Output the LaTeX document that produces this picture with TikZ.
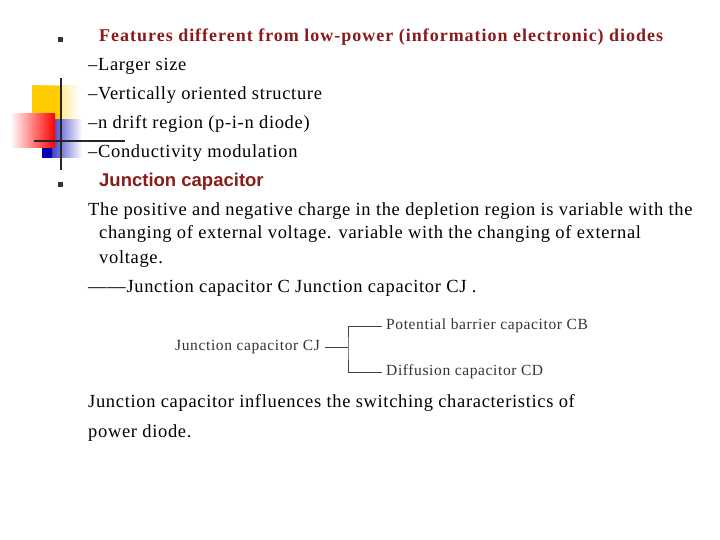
\documentclass[tikz,border=0pt]{standalone}
\usepackage{fontspec}
\setmainfont{Liberation Serif}[LetterSpace=3.6]
\newfontfamily\hsans{Liberation Sans}
\newfontfamily\dserif{Liberation Serif}[LetterSpace=4]
\newfontfamily\tserif{Liberation Serif}[LetterSpace=5.5]
\definecolor{dred}{HTML}{8B1A1A}
\definecolor{dyel}{HTML}{FFCC00}
\begin{document}
\begin{tikzpicture}[x=1pt,y=-1pt,
  body/.style={anchor=base west,inner sep=0pt,font=\fontsize{18.5}{20}\selectfont},
  small/.style={inner sep=0pt,font=\dserif\fontsize{15.5}{16}\selectfont,text=black!80},
  bul/.style={fill=black!80,minimum size=5pt,inner sep=0pt}]
\useasboundingbox (0,0) rectangle (720,540);
% decoration
\shade[left color=dyel, right color=white] (32,86) rectangle (80,122);
\fill[dyel] (32,86) rectangle (60,122);
\shade[left color=blue!70!black, right color=white] (42,120) rectangle (82,158);
\fill[blue!70!black] (42,120) rectangle (52,158);
\shade[left color=white, right color=red] (10,114) rectangle (55,148);
\draw[line width=2.5pt,black!85] (61,78) -- (61,170);
\draw[line width=2.5pt,black!85] (34,141) -- (125,141);
% bullets
\node[bul] (b1) at (60,40) {};
\node[bul] (b2) at (60,185) {};
\node[body,text=dred,font=\tserif\bfseries\fontsize{18}{20}\selectfont] (t1) at (99,42) {Features different from low-power (information electronic) diodes};
\node[body] (l1) at (88,71) {--Larger size};
\node[body] (l2) at (88,100) {--Vertically oriented structure};
\node[body] (l3) at (88,129) {--n drift region (p-i-n diode)};
\node[body] (l4) at (88,158) {--Conductivity modulation};
\node[body,text=dred,font=\hsans\bfseries\fontsize{18.5}{20}\selectfont] (t2) at (99,187) {Junction capacitor};
\node[body] (p1) at (88,215) {The positive and negative charge in the depletion region is variable with the};
\node[body] (p2) at (99,239) {changing of external voltage. variable with the changing of external};
\node[body] (p3) at (99,263) {voltage.};
\node[body] (p4) at (88,292) {------Junction capacitor C Junction capacitor CJ .};
% tree
\node[small,anchor=east] (cj) at (320,347) {Junction capacitor CJ};
\node[small,anchor=west] (cb) at (386,326) {Potential barrier capacitor CB};
\node[small,anchor=west] (cd) at (386,372) {Diffusion capacitor CD};
\coordinate (j) at (348,347);
\draw[black!75,line width=0.8pt] (cj.east)++(5,0) -- (j);
\draw[black!75,line width=0.8pt] (cb.west)++(-4,0) -| (j) |- ([xshift=-4pt]cd.west);
\node[body] (q1) at (88,407) {Junction capacitor influences the switching characteristics of};
\node[body] (q2) at (88,437) {power diode.};
\end{tikzpicture}
\end{document}
